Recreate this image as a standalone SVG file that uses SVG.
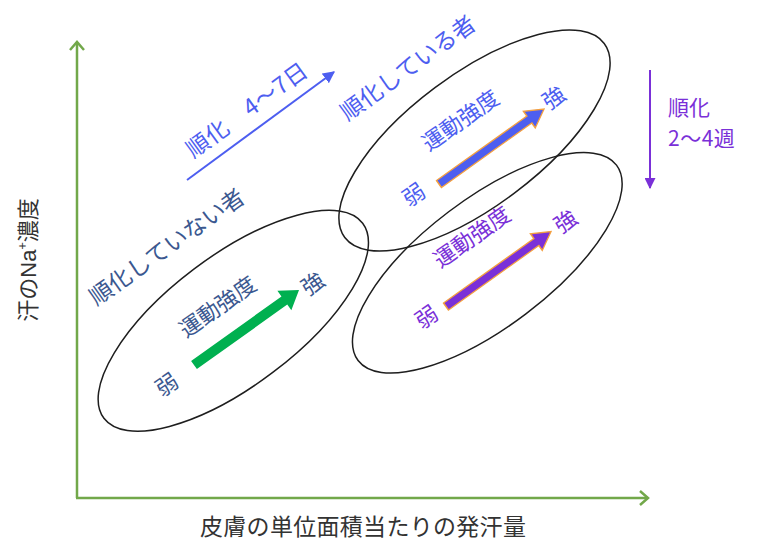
<svg xmlns="http://www.w3.org/2000/svg" width="762" height="546" viewBox="0 0 762 546">
<defs>
<style>
text{font-family:"Noto Sans CJK JP","Noto Sans",sans-serif;}
.ell{fill:none;stroke:#1e1e1e;stroke-width:1.5;}
.axis{fill:none;stroke:#72a84a;stroke-width:2.5;}
.dk{fill:#3b5890;}
.bl{fill:#4d5ef0;}
.pu{fill:#7a30d8;}
.t23{font-size:23px;}
.t22{font-size:22px;}
.t21{font-size:21px;}
</style>
<marker id="chev" viewBox="0 0 12 16" refX="9" refY="8" markerWidth="12" markerHeight="16" markerUnits="userSpaceOnUse" orient="auto">
<path d="M1,1 L9,8 L1,15" fill="none" stroke="#72a84a" stroke-width="2.5"/>
</marker>
<marker id="triB" viewBox="0 0 10 10" refX="9" refY="5" markerWidth="12" markerHeight="12" markerUnits="userSpaceOnUse" orient="auto">
<path d="M0,0 L10,5 L0,10 Z" fill="#4d5ef0"/>
</marker>
<marker id="triP" viewBox="0 0 10 10" refX="9" refY="5" markerWidth="11" markerHeight="11" markerUnits="userSpaceOnUse" orient="auto">
<path d="M0,0 L10,5 L0,10 Z" fill="#7a30d8"/>
</marker>
<path id="blk" d="M0,-5 L111,-5 L111,-12 L129,0 L111,12 L111,5 L0,5 Z"/>
</defs>

<g id="axes">
<path class="axis" d="M77,498 L77,42" marker-end="url(#chev)"/>
<path class="axis" d="M76,498 L648,498" marker-end="url(#chev)"/>
</g>

<g id="axis-labels">
<text class="t22" fill="#333" transform="translate(28,260) rotate(-90)" text-anchor="middle" y="8">汗の<tspan font-family="Liberation Sans, sans-serif">Na</tspan><tspan font-size="13" dy="-9">+</tspan><tspan dy="9">濃度</tspan></text>
<text class="t23" fill="#333" x="200" y="535" letter-spacing="0.3">皮膚の単位面積当たりの発汗量</text>
</g>

<g id="connectors">
<path d="M187,180 L334,72" stroke="#4d5ef0" stroke-width="2" fill="none" marker-end="url(#triB)"/>
<path d="M650,70 L650,188" stroke="#7a30d8" stroke-width="2" fill="none" marker-end="url(#triP)"/>
</g>

<g id="acclim-label">
<text class="t23 bl" transform="translate(247,110) rotate(-36)" text-anchor="middle" y="8" letter-spacing="0.5" xml:space="preserve">順化　4〜7日</text>
</g>

<g id="weeks-label">
<text class="t21 pu" x="668" y="115">順化</text>
<text class="t21 pu" x="668" y="146" letter-spacing="0.5">2〜4週</text>
</g>

<g id="non-acclimatized">
<ellipse class="ell" cx="0" cy="0" rx="162" ry="65" transform="translate(233.3,320.8) rotate(-37)"/>
<text class="t23 dk" transform="translate(167,247) rotate(-35)" text-anchor="middle" y="8">順化していない者</text>
<text class="t22 dk" transform="translate(218,307) rotate(-35)" text-anchor="middle" y="7.5">運動強度</text>
<text class="t22 dk" transform="translate(167,385) rotate(-35)" text-anchor="middle" y="7.5">弱</text>
<text class="t22 dk" transform="translate(313,284) rotate(-35)" text-anchor="middle" y="7.5">強</text>
<use href="#blk" fill="#00b050" transform="translate(194,365) rotate(-35.5)"/>
</g>

<g id="acclimatized">
<ellipse class="ell" cx="0" cy="0" rx="162" ry="66" transform="translate(474.5,140.5) rotate(-36.8)"/>
<text class="t23 bl" transform="translate(408,68) rotate(-36)" text-anchor="middle" y="8">順化している者</text>
<text class="t22 bl" transform="translate(460.7,120.7) rotate(-35)" text-anchor="middle" y="7.5">運動強度</text>
<text class="t22 bl" transform="translate(414,195) rotate(-35)" text-anchor="middle" y="7.5">弱</text>
<text class="t22 bl" transform="translate(554,98) rotate(-35)" text-anchor="middle" y="7.5">強</text>
<use href="#blk" fill="#4d5ef0" stroke="#f4a040" stroke-width="1.5" transform="translate(439,184) rotate(-35.5) scale(1,0.85)"/>
</g>

<g id="weeks-acclimatized">
<ellipse class="ell" cx="0" cy="0" rx="162" ry="64" transform="translate(487.3,262.8) rotate(-37.1)"/>
<text class="t22 pu" transform="translate(472.3,237.3) rotate(-35)" text-anchor="middle" y="7.5">運動強度</text>
<text class="t22 pu" transform="translate(426.7,317.3) rotate(-35)" text-anchor="middle" y="7.5">弱</text>
<text class="t22 pu" transform="translate(565.7,221.7) rotate(-35)" text-anchor="middle" y="7.5">強</text>
<use href="#blk" fill="#7a30d8" stroke="#f4a040" stroke-width="1.5" transform="translate(446,306.5) rotate(-35.5) scale(1,0.85)"/>
</g>
</svg>
